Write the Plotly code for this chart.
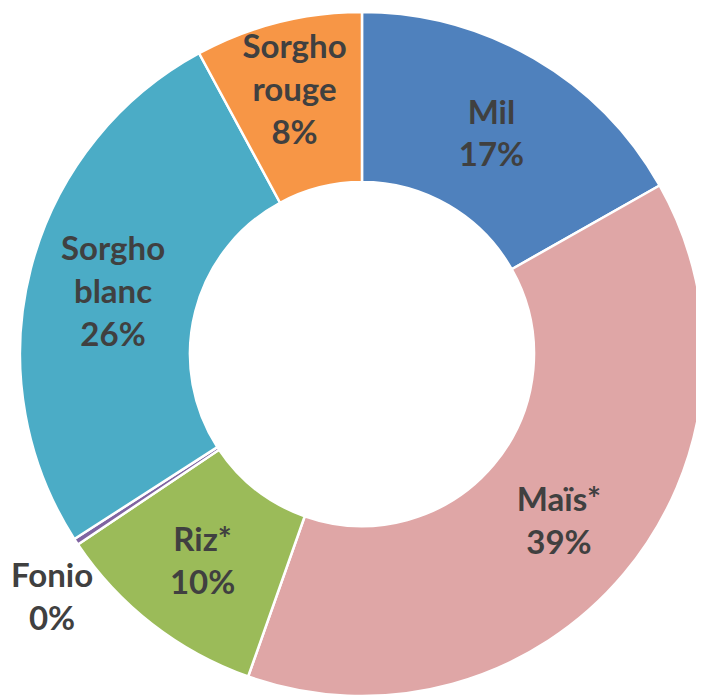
import plotly.graph_objects as go

labels = ["Mil", "Maïs*", "Riz*", "Fonio", "Sorgho<br>blanc", "Sorgho<br>rouge"]
values = [16.8, 38.6, 10.2, 0.3, 26.2, 7.9]
colors = ["#4F81BD", "#DFA6A6", "#9BBB59", "#8064A2", "#4BACC6", "#F79646"]
text_positions = ["inside", "inside", "inside", "none", "inside", "inside"]

font = dict(family="Lato", size=33, color="#404040")

fig = go.Figure(go.Pie(
    labels=labels,
    values=values,
    sort=False,
    direction="clockwise",
    rotation=0,
    hole=0.503,
    marker=dict(colors=colors, line=dict(color="white", width=2.5)),
    texttemplate="<b>%{label}<br>%{percent:.0%}</b>",
    textposition=text_positions,
    insidetextorientation="horizontal",
    textfont=font,
    showlegend=False,
    domain=dict(x=[0.017, 0.9886], y=[0.0143, 0.9943]),
))

# outside label for the tiny Fonio slice
total = sum(values)
i_fonio = 3
fig.add_annotation(
    x=0.0625, y=0.159, xref="paper", yref="paper",
    xanchor="center", yanchor="middle",
    text=f"<b>{labels[i_fonio]}<br>{round(100 * values[i_fonio] / total)}%</b>",
    showarrow=False, font=font, align="center",
)

fig.update_layout(
    width=704, height=698,
    margin=dict(l=0, r=0, t=0, b=0),
    paper_bgcolor="white",
    plot_bgcolor="white",
    uniformtext=dict(minsize=33, mode="show"),
)

fig.write_html("out.html")
